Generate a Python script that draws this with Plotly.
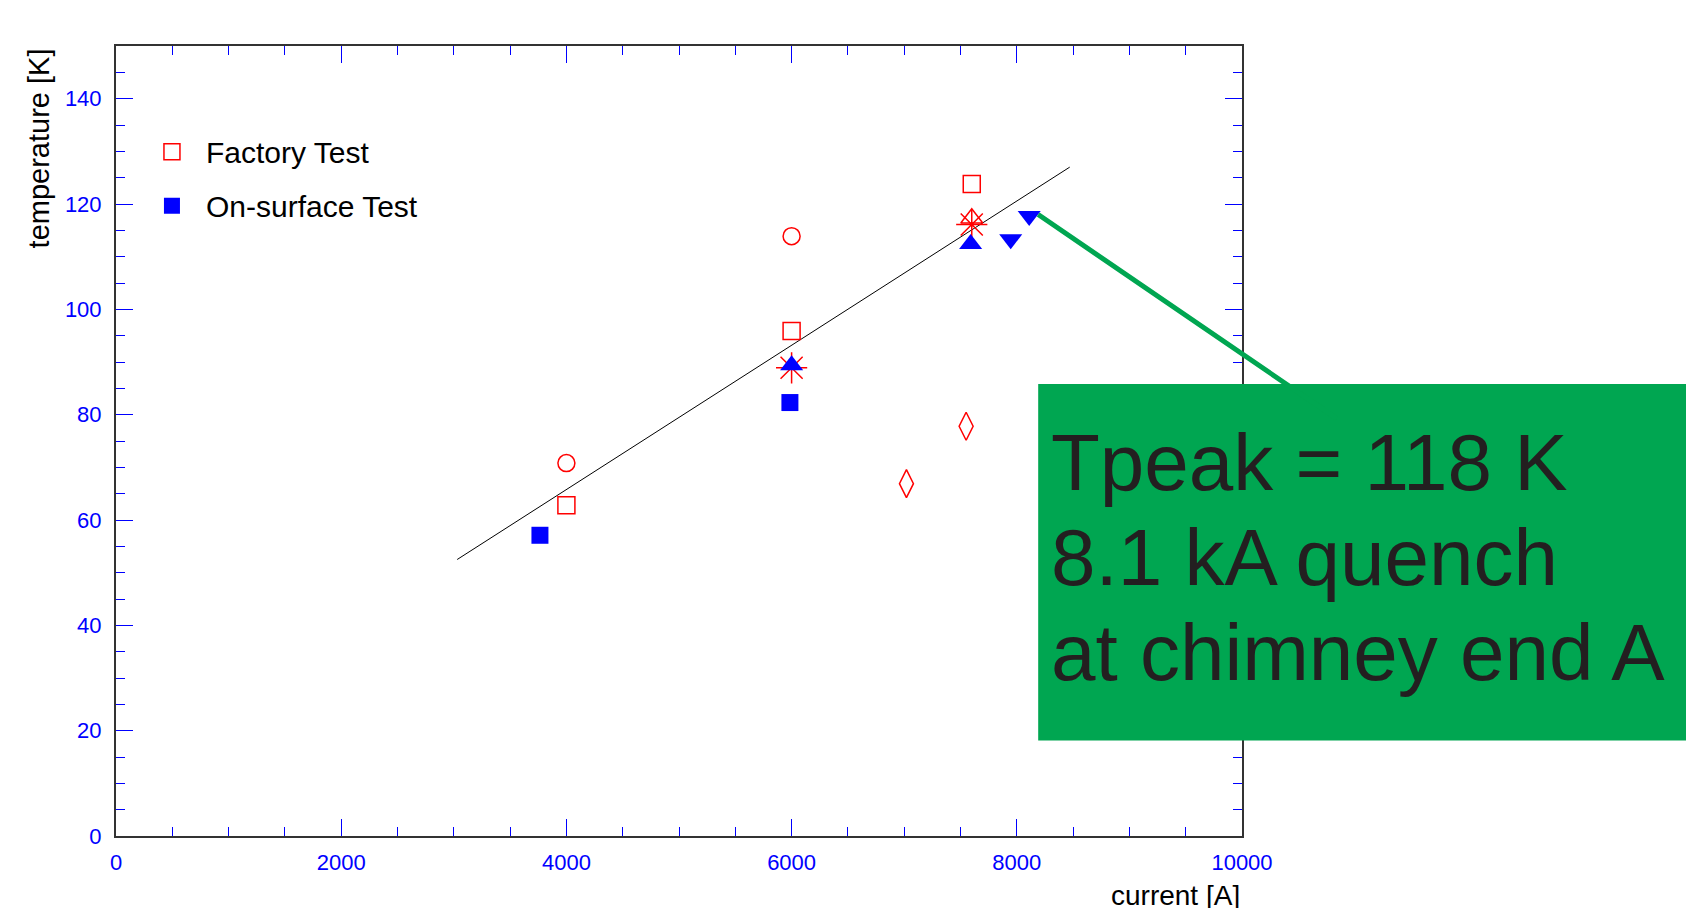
import plotly.graph_objects as go

# ---------------- data ----------------
x_range = [0, 10000]
y_range = [0, 150]
x_ticks = [0, 2000, 4000, 6000, 8000, 10000]
x_tick_labels = ["0", "2000", "4000", "6000", "8000", "10000"]
y_ticks = [0, 20, 40, 60, 80, 100, 120, 140]
y_tick_labels = ["0", "20", "40", "60", "80", "100", "120", "140"]

# Factory test (red, open symbols)
fac_sq_x = [4000, 6000, 7600]
fac_sq_y = [62.8, 95.9, 123.8]
fac_circ_x = [4000, 6000]
fac_circ_y = [70.8, 113.9]
fac_ast_x = [6000, 7600]
fac_ast_y = [88.9, 116.1]
fac_tri_x = [7600]
fac_tri_y = [117.3]
fac_dia_x = [7020, 7550]
fac_dia_y = [66.9, 77.8]

# On-surface test (blue, filled symbols)
surf_sq_x = [3765, 5985]
surf_sq_y = [57.1, 82.3]
surf_tri_x = [6000, 7590]
surf_tri_y = [89.4, 112.4]
surf_tdn_x = [7946, 8110]
surf_tdn_y = [113.3, 117.7]

# linear fit
fit_x = [3030, 8470]
fit_y = [52.5, 127.0]

# annotated peak point
peak_x = 8190
peak_y = 118.0
note_lines = ["Tpeak = 118 K", "8.1 kA quench", "at chimney end A"]

GREEN = "#00A651"
RED = "red"
BLUE = "blue"
FONT = "Liberation Sans, Arial"

fig = go.Figure()

fig.add_trace(go.Scatter(x=fit_x, y=fit_y, mode="lines",
                         line=dict(color="black", width=1), showlegend=False))

def red_open(x, y, sym, size, name=None, show=False):
    fig.add_trace(go.Scatter(x=x, y=y, mode="markers", name=name or "",
                             showlegend=show, legendgroup=name or sym,
                             marker=dict(symbol=sym, size=size, color=RED,
                                         line=dict(color=RED, width=1.5))))

def blue_fill(x, y, sym, size, name=None, show=False):
    fig.add_trace(go.Scatter(x=x, y=y, mode="markers", name=name or "",
                             showlegend=show, legendgroup=name or sym,
                             marker=dict(symbol=sym, size=size, color=BLUE,
                                         line=dict(width=0))))

red_open(fac_sq_x, fac_sq_y, "square-open", 17, "Factory Test", True)
blue_fill(surf_sq_x, surf_sq_y, "square", 17, "On-surface Test", True)
red_open(fac_circ_x, fac_circ_y, "circle-open", 17)
red_open(fac_ast_x, fac_ast_y, "asterisk-open", 26)
red_open(fac_tri_x, fac_tri_y, "triangle-up-open", 19)
red_open(fac_dia_x, fac_dia_y, "diamond-tall-open", 20)
blue_fill(surf_tri_x, surf_tri_y, "triangle-up", 20)
blue_fill(surf_tdn_x, surf_tdn_y, "triangle-down", 20)

axis_common = dict(
    showline=True, linecolor="#333333", linewidth=2, mirror="allticks",
    ticks="inside", ticklen=17, tickwidth=1, tickcolor=BLUE,
    showgrid=False, zeroline=False,
    tickfont=dict(family=FONT, size=22, color=BLUE),
)

fig.update_xaxes(range=x_range, tickvals=x_ticks, ticktext=x_tick_labels,
                 minor=dict(dtick=500, ticks="inside", ticklen=9, tickcolor=BLUE, tickwidth=1),
                 ticklabelstandoff=6, **axis_common)
fig.update_yaxes(range=y_range, tickvals=y_ticks, ticktext=y_tick_labels,
                 minor=dict(dtick=5, ticks="inside", ticklen=9, tickcolor=BLUE, tickwidth=1),
                 ticklabelstandoff=8, **axis_common)

# green connector line (drawn under the box)
fig.add_annotation(x=peak_x, y=peak_y, xref="x", yref="y", text="",
                   showarrow=True, arrowhead=0, arrowwidth=5, arrowcolor=GREEN,
                   ax=300, ay=205, axref="pixel", ayref="pixel", standoff=0)

# green box
fig.add_shape(type="rect", xref="paper", yref="paper",
              x0=0.819, x1=1.45, y0=0.121, y1=0.572,
              fillcolor=GREEN, line=dict(width=0), layer="above")

for line_txt, yp in zip(note_lines, [0.4725, 0.3525, 0.2318]):
    fig.add_annotation(x=0.8282, y=yp, xref="paper", yref="paper",
                       text=line_txt, showarrow=False, xanchor="left", yanchor="middle",
                       font=dict(family=FONT, size=80, color="#231F20"))

# axis titles
fig.add_annotation(x=-0.068, y=1.0, xref="paper", yref="paper",
                   text="temperature [K]", textangle=-90, showarrow=False,
                   xanchor="center", yanchor="top",
                   font=dict(family=FONT, size=29, color="black"))
fig.add_annotation(x=1.0, y=-0.075, xref="paper", yref="paper",
                   text="current [A]", showarrow=False,
                   xanchor="right", yanchor="middle",
                   font=dict(family=FONT, size=28, color="black"))

fig.update_layout(
    width=1686, height=908,
    margin=dict(l=116, r=444, t=46, b=72),
    paper_bgcolor="white", plot_bgcolor="white",
    showlegend=True,
    legend=dict(x=0.0195, y=0.899, xanchor="left", yanchor="top",
                bgcolor="rgba(0,0,0,0)", itemwidth=58,
                traceorder="grouped", tracegroupgap=12,
                font=dict(family=FONT, size=30, color="black")),
)

fig.write_html("out.html")
